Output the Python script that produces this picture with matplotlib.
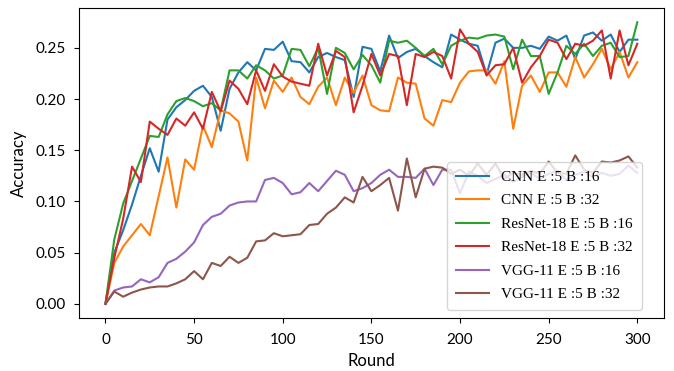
import matplotlib
matplotlib.use("Agg")
import matplotlib.pyplot as plt
import numpy as np

plt.rcParams['font.family'] = ['Lato', 'DejaVu Sans']

rounds = list(range(0, 301, 5))

cnn_b16 = [0.000, 0.050, 0.072, 0.097, 0.125, 0.152, 0.129, 0.180, 0.192, 0.199,
           0.208, 0.213, 0.202, 0.169, 0.210, 0.226, 0.236, 0.228, 0.249, 0.248,
           0.256, 0.237, 0.236, 0.226, 0.241, 0.245, 0.241, 0.238, 0.202, 0.251,
           0.249, 0.227, 0.262, 0.240, 0.246, 0.249, 0.242, 0.236, 0.231, 0.263,
           0.258, 0.254, 0.252, 0.224, 0.255, 0.259, 0.250, 0.250, 0.252, 0.249,
           0.261, 0.257, 0.262, 0.239, 0.262, 0.265, 0.257, 0.263, 0.246, 0.258,
           0.258]
cnn_b32 = [0.000, 0.040, 0.056, 0.067, 0.078, 0.067, 0.105, 0.143, 0.094, 0.141,
           0.131, 0.174, 0.153, 0.189, 0.186, 0.178, 0.140, 0.221, 0.191, 0.218,
           0.207, 0.221, 0.202, 0.195, 0.212, 0.221, 0.194, 0.221, 0.206, 0.223,
           0.194, 0.189, 0.188, 0.221, 0.216, 0.215, 0.181, 0.174, 0.199, 0.197,
           0.216, 0.227, 0.228, 0.228, 0.215, 0.237, 0.171, 0.213, 0.223, 0.207,
           0.226, 0.226, 0.212, 0.241, 0.221, 0.234, 0.249, 0.229, 0.246, 0.221,
           0.236]
resnet_b16 = [0.000, 0.063, 0.098, 0.120, 0.142, 0.164, 0.163, 0.185, 0.198, 0.201,
              0.198, 0.193, 0.196, 0.189, 0.228, 0.228, 0.220, 0.233, 0.228, 0.220,
              0.223, 0.249, 0.248, 0.232, 0.250, 0.205, 0.250, 0.245, 0.229, 0.243,
              0.233, 0.216, 0.257, 0.255, 0.257, 0.250, 0.242, 0.249, 0.234, 0.252,
              0.257, 0.260, 0.259, 0.262, 0.263, 0.261, 0.229, 0.258, 0.242, 0.242,
              0.205, 0.226, 0.252, 0.244, 0.254, 0.242, 0.252, 0.255, 0.241, 0.242,
              0.275]
resnet_b32 = [0.000, 0.045, 0.083, 0.134, 0.119, 0.178, 0.171, 0.165, 0.181, 0.174,
              0.187, 0.171, 0.207, 0.188, 0.218, 0.210, 0.195, 0.228, 0.208, 0.234,
              0.222, 0.217, 0.215, 0.213, 0.254, 0.223, 0.247, 0.241, 0.187, 0.213,
              0.244, 0.223, 0.244, 0.242, 0.194, 0.244, 0.241, 0.246, 0.242, 0.220,
              0.268, 0.254, 0.246, 0.223, 0.233, 0.234, 0.250, 0.216, 0.231, 0.242,
              0.258, 0.255, 0.239, 0.254, 0.252, 0.257, 0.267, 0.220, 0.267, 0.233,
              0.254]
vgg_b16 = [0.000, 0.013, 0.016, 0.017, 0.024, 0.021, 0.026, 0.040, 0.044, 0.051,
           0.060, 0.077, 0.085, 0.088, 0.096, 0.099, 0.100, 0.100, 0.121, 0.123,
           0.118, 0.107, 0.109, 0.118, 0.110, 0.120, 0.130, 0.126, 0.110, 0.113,
           0.118, 0.126, 0.131, 0.124, 0.124, 0.123, 0.132, 0.116, 0.131, 0.131,
           0.108, 0.129, 0.125, 0.118, 0.122, 0.126, 0.119, 0.124, 0.128, 0.122,
           0.127, 0.130, 0.121, 0.126, 0.129, 0.124, 0.128, 0.125, 0.127, 0.135,
           0.128]
vgg_b32 = [0.000, 0.012, 0.007, 0.011, 0.014, 0.016, 0.017, 0.017, 0.020, 0.024,
           0.032, 0.024, 0.040, 0.037, 0.046, 0.040, 0.045, 0.061, 0.062, 0.069,
           0.066, 0.067, 0.068, 0.077, 0.078, 0.088, 0.094, 0.104, 0.099, 0.124,
           0.110, 0.116, 0.123, 0.091, 0.142, 0.104, 0.132, 0.134, 0.133, 0.127,
           0.131, 0.125, 0.137, 0.126, 0.137, 0.122, 0.128, 0.126, 0.130, 0.127,
           0.139, 0.128, 0.127, 0.145, 0.131, 0.128, 0.139, 0.138, 0.140, 0.144,
           0.133]

series = [
    ('CNN E :5 B :16', cnn_b16),
    ('CNN E :5 B :32', cnn_b32),
    ('ResNet-18 E :5 B :16', resnet_b16),
    ('ResNet-18 E :5 B :32', resnet_b32),
    ('VGG-11 E :5 B :16', vgg_b16),
    ('VGG-11 E :5 B :32', vgg_b32),
]

fig = plt.figure(figsize=(6.74, 3.71), dpi=100)
ax = fig.add_axes([0.117, 0.143, 0.868, 0.835])

for label, acc in series:
    ax.plot(rounds, acc, label=label)

ax.set_xlabel('Round', fontsize=12, labelpad=5)
ax.set_ylabel('Accuracy', fontsize=12, labelpad=6)
ax.set_xticks([0, 50, 100, 150, 200, 250, 300])
ax.set_yticks(np.arange(0, 0.26, 0.05))
ax.tick_params(labelsize=11)
ax.tick_params(axis='x', pad=7)
ax.tick_params(axis='y', pad=6)
ax.legend(loc='lower right', bbox_to_anchor=(0.962, 0.026), borderaxespad=0,
          prop={'family': 'Liberation Serif', 'size': 11},
          handlelength=2.2, labelspacing=0.64, borderpad=0.56)

fig.savefig('out.png', dpi=100)
